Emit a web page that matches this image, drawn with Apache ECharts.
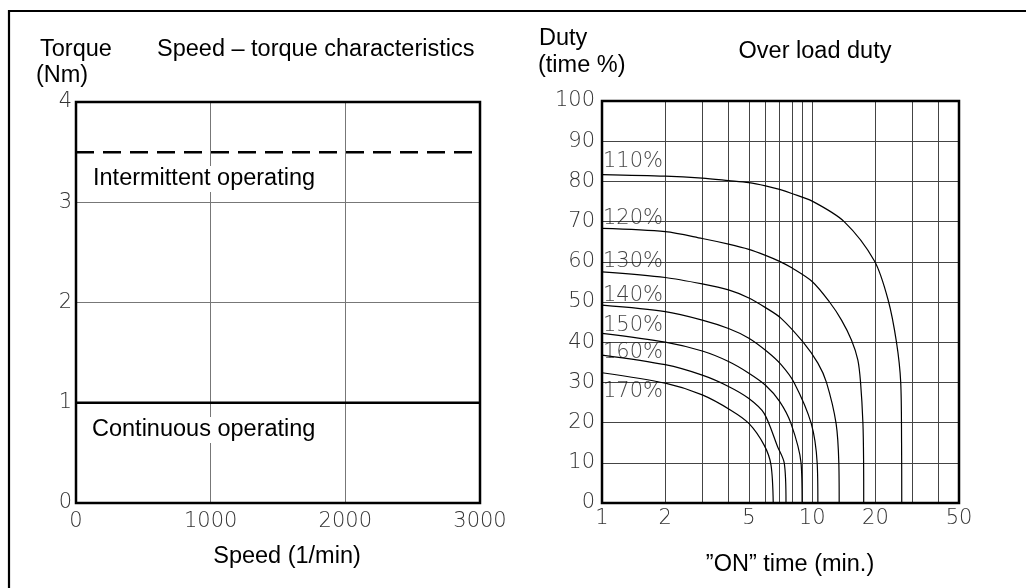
<!DOCTYPE html>
<html>
<head>
<meta charset="utf-8">
<script src="https://cdn.jsdelivr.net/npm/echarts@6/dist/echarts.min.js"></script>
<style>
html,body{margin:0;padding:0;background:#fff;}
#chart{width:1026px;height:588px;}
</style>
</head>
<body>
<div id="chart"></div>
<script>
// ---- Left chart: speed-torque characteristics ----
const speedRange = [0, 3000];
const torqueRange = [0, 4];
const continuousTorque = 1;     // Nm
const intermittentTorque = 3.5; // Nm

// ---- Right chart: overload duty ----
const onTimeGrid = [2, 3, 4, 5, 6, 7, 8, 9, 10, 20, 30, 40];
const onTimeLabels = [1, 2, 5, 10, 20, 50];
const overloadNames = ['110%', '120%', '130%', '140%', '150%', '160%', '170%'];
const duty110 = [[1,81.7],[2,81.3],[3,80.8],[4,80.2],[5,79.7],[6,78.9],[7,78.0],[8,77.0],[10,75.1],[14.2,70],[19.8,60.2],[23,50.5],[25.2,40],[26.4,30],[26.65,15],[26.7,0]];
const duty120 = [[1,68.3],[2,67.5],[3,65.8],[4,64.4],[5,63.1],[6,61.6],[7,60.1],[8,58.5],[10,55.1],[12.1,50],[13.8,45.5],[15.4,40.5],[16.5,35.6],[17.0,30],[17.45,19.8],[17.58,10],[17.6,0]];
const duty130 = [[1,57.5],[2,56.1],[3,54.5],[4,53.0],[5,51.0],[6,48.6],[7.1,46],[9.06,40],[10.65,34.8],[11.7,30],[13.0,19.8],[13.4,9.9],[13.45,0]];
const duty140 = [[1,49.2],[2,47.6],[3,45.5],[4,43.4],[5,41.0],[6.1,37.7],[7.1,34.5],[8.2,30],[9.9,19.8],[10.57,9.9],[10.65,0]];
const duty150 = [[1,42.2],[2,40.0],[3,37.8],[4,35.2],[5,32.3],[6,29.3],[7,25.3],[7.93,19.8],[8.86,9.9],[8.96,0]];
const duty160 = [[1,36.8],[2,34.4],[3,31.8],[4,29.0],[5,26.0],[5.91,22.3],[6.85,14],[7.37,9.9],[7.51,0]];
const duty170 = [[1,32.4],[2,29.8],[3,26.9],[4.1,23.1],[5,19.8],[5.91,14.4],[6.37,9.5],[6.53,0]];
const dutyCurves = [duty110, duty120, duty130, duty140, duty150, duty160, duty170];

const tickFont = { fontFamily: 'DejaVu Sans', fontSize: 21, fontWeight: 200, color: '#333' };
const textFont = 'Liberation Sans, Arial, sans-serif';
const labelDy = [-13, -10, -10, -10, -8, -3, 19];

function txt(text, x, y, align, bg) {
  return {
    type: 'text', x: x, y: y, z: 100,
    style: {
      text: text, fill: '#000', fontSize: 23.5, fontFamily: textFont,
      align: align || 'left', verticalAlign: 'middle',
      backgroundColor: bg || null, padding: bg ? [1, 0, 1, 0] : 0
    }
  };
}

const chart = echarts.init(document.getElementById('chart'), null, { renderer: 'canvas' });

const series = [];
// left chart lines
series.push({
  type: 'line', xAxisIndex: 0, yAxisIndex: 0, symbol: 'none', silent: true,
  data: [[speedRange[0], continuousTorque], [speedRange[1], continuousTorque]],
  lineStyle: { color: '#000', width: 2.5 }
});
series.push({
  type: 'line', xAxisIndex: 0, yAxisIndex: 0, symbol: 'none', silent: true,
  data: [[speedRange[0], intermittentTorque], [speedRange[1], intermittentTorque]],
  lineStyle: { color: '#000', width: 2.5, type: [18, 9] }
});
// right chart curves
dutyCurves.forEach(function (d, i) {
  const s = {
    type: 'line', name: overloadNames[i], xAxisIndex: 1, yAxisIndex: 1,
    symbol: 'none', silent: true, smooth: 0.3,
    data: d, lineStyle: { color: '#000', width: 1.2 }, z: 3
  };
  if (i === 0) {
    s.markLine = {
      silent: true, symbol: ['none', 'none'], label: { show: false },
      lineStyle: { color: '#444', width: 1, type: 'solid' },
      data: onTimeGrid.map(function (v) { return { xAxis: v }; }),
      animation: false, z: 1
    };
  }
  series.push(s);
});
// curve labels
series.push({
  type: 'scatter', xAxisIndex: 1, yAxisIndex: 1, symbolSize: 0, silent: true, z: 5,
  data: overloadNames.map(function (n, i) {
    return {
      name: n, value: [dutyCurves[i][0][0], dutyCurves[i][0][1]],
      label: { offset: [0, labelDy[i]] }
    };
  }),
  label: {
    show: true, position: 'right', distance: 1, formatter: '{b}',
    fontFamily: 'DejaVu Sans', fontSize: 21, fontWeight: 200, color: '#111'
  }
});

const option = {
  animation: false,
  backgroundColor: '#fff',
  grid: [
    { left: 76, top: 102, width: 404, height: 401, show: true, borderColor: '#000', borderWidth: 2.5, backgroundColor: 'transparent', z: 4 },
    { left: 602, top: 101, width: 357, height: 402, show: true, borderColor: '#000', borderWidth: 2.5, backgroundColor: 'transparent', z: 4 }
  ],
  xAxis: [
    {
      gridIndex: 0, type: 'value', min: speedRange[0], max: speedRange[1], interval: 1000,
      axisLine: { show: false }, axisTick: { show: false },
      splitLine: { show: true, showMinLine: false, showMaxLine: false, lineStyle: { color: '#777', width: 1 } },
      axisLabel: Object.assign({ margin: 8, formatter: function (v) { return String(v); } }, tickFont)
    },
    {
      gridIndex: 1, type: 'log', logBase: 10, min: 1, max: 50,
      axisLine: { show: false }, axisTick: { show: false },
      splitLine: { show: false },
      axisLabel: Object.assign({ margin: 5, customValues: onTimeLabels, showMinLabel: true, showMaxLabel: true }, tickFont)
    }
  ],
  yAxis: [
    {
      gridIndex: 0, type: 'value', min: torqueRange[0], max: torqueRange[1], interval: 1,
      axisLine: { show: false }, axisTick: { show: false },
      splitLine: { show: true, showMinLine: false, showMaxLine: false, lineStyle: { color: '#777', width: 1 } },
      axisLabel: Object.assign({ margin: 4 }, tickFont)
    },
    {
      gridIndex: 1, type: 'value', min: 0, max: 100, interval: 10,
      axisLine: { show: false }, axisTick: { show: false },
      splitLine: { show: true, showMinLine: false, showMaxLine: false, lineStyle: { color: '#444', width: 1 } },
      axisLabel: Object.assign({ margin: 7 }, tickFont)
    }
  ],
  graphic: [
    { type: 'rect', z: 0, shape: { x: 9, y: 11, width: 1200, height: 800 }, style: { fill: 'none', stroke: '#000', lineWidth: 2.2 } },
    txt('Torque', 40, 50),
    txt('(Nm)', 36, 76),
    txt('Speed \u2013 torque characteristics', 157, 50),
    txt('Intermittent operating', 93, 179, 'left', '#fff'),
    txt('Continuous operating', 92, 430, 'left', '#fff'),
    txt('Speed (1/min)', 287, 557, 'center'),
    txt('Duty', 539, 39),
    txt('(time %)', 538, 66),
    txt('Over load duty', 815, 52, 'center'),
    txt('\u201DON\u201D time (min.)', 790, 565, 'center')
  ],
  series: series
};
chart.setOption(option);
</script>
</body>
</html>
